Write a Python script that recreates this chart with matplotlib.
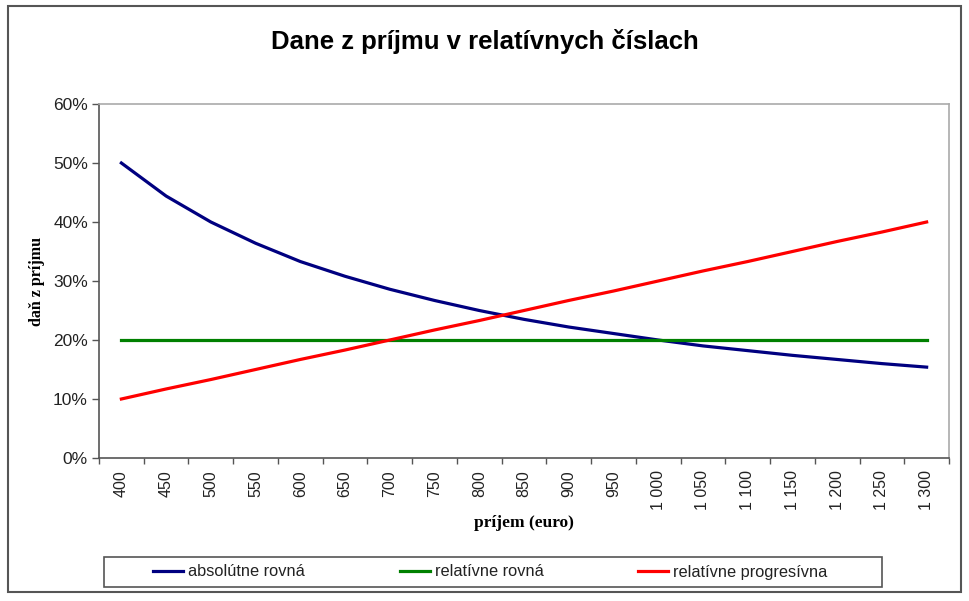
import matplotlib
matplotlib.use("Agg")
import matplotlib.pyplot as plt
from matplotlib.patches import Rectangle
from matplotlib.ticker import FixedLocator, FuncFormatter

# ---- data ----
income = ["400", "450", "500", "550", "600", "650", "700", "750", "800", "850",
          "900", "950", "1 000", "1 050", "1 100", "1 150", "1 200", "1 250", "1 300"]
absolutne_rovna = [0.500, 0.444, 0.400, 0.364, 0.333, 0.308, 0.286, 0.267, 0.250, 0.235,
                   0.222, 0.211, 0.200, 0.190, 0.182, 0.174, 0.167, 0.160, 0.154]
relativne_rovna = [0.20] * 19
relativne_progresivna = [0.100, 0.117, 0.133, 0.150, 0.167, 0.183, 0.200, 0.217, 0.233, 0.250,
                         0.267, 0.283, 0.300, 0.317, 0.333, 0.350, 0.367, 0.383, 0.400]
series_names = ["absolútne rovná", "relatívne rovná", "relatívne progresívna"]
y_ticks = [0.0, 0.1, 0.2, 0.3, 0.4, 0.5, 0.6]

W, H = 969, 601
fig = plt.figure(figsize=(W / 100, H / 100), dpi=100)
fig.patch.set_facecolor("white")

ax = fig.add_axes([99 / W, 1 - 458 / H, (949 - 99) / W, (458 - 104) / H])
x = list(range(len(income)))

l1, = ax.plot(x, absolutne_rovna, color="#000080", lw=2.3, label=series_names[0])
l2, = ax.plot(x, relativne_rovna, color="#008000", lw=2.3, label=series_names[1])
l3, = ax.plot(x, relativne_progresivna, color="#FF0000", lw=2.3, label=series_names[2])

ax.set_xlim(-0.5, len(income) - 0.5)
ax.set_ylim(0, 0.6)

ax.set_xticks(x)
ax.set_xticklabels(income, rotation=90, fontsize=11.5, color="#222222",
                   family="Liberation Sans")
ax.tick_params(axis="x", which="major", length=0, pad=9)
ax.xaxis.set_minor_locator(FixedLocator([i - 0.5 for i in range(len(income) + 1)]))
ax.tick_params(axis="x", which="minor", length=4, color="#555555", width=1)

ax.set_yticks(y_ticks)
ax.yaxis.set_major_formatter(FuncFormatter(lambda v, p: f"{v * 100:.0f}%"))
ax.tick_params(axis="y", length=5, color="#555555", width=1, labelsize=12.5,
               labelcolor="#222222", pad=3)
for lab in ax.get_yticklabels():
    lab.set_family("Liberation Sans")

for side in ["left", "bottom"]:
    ax.spines[side].set_color("#555555")
    ax.spines[side].set_linewidth(1.2)
for side in ["top", "right"]:
    ax.spines[side].set_color("#aaaaaa")
    ax.spines[side].set_linewidth(1.2)

ax.set_ylabel("daň z príjmu", fontsize=11.5, fontweight="bold",
              family="Liberation Serif")
ax.yaxis.set_label_coords(-54 / 850, 0.5)
fig.text(524 / W, 1 - 523 / H, "príjem (euro)", fontsize=12.5, fontweight="bold",
         family="Liberation Serif", ha="center", va="center")

fig.text(485 / W, 1 - 42 / H, "Dane z príjmu v relatívnych číslach", fontsize=18.5,
         fontweight="bold", family="Liberation Sans", ha="center", va="center")

# legend frame
fig.add_artist(Rectangle((104 / W, 1 - 587 / H), (882 - 104) / W, 30 / H,
                         transform=fig.transFigure, fill=False,
                         edgecolor="#555555", linewidth=1.2))
leg = fig.legend(handles=[l1, l2, l3], labels=series_names, ncol=3,
                 bbox_to_anchor=(153 / W, 1 - 572 / H), loc="center left",
                 frameon=False, handlelength=1.83, handletextpad=0.3,
                 columnspacing=5.8, borderpad=0, borderaxespad=0,
                 prop={"family": "Liberation Sans", "size": 11.8})
for t in leg.get_texts():
    t.set_color("#222222")

fig.add_artist(Rectangle((8 / W, 1 - 592 / H), 953 / W, 586 / H, transform=fig.transFigure,
                         fill=False, edgecolor="#555555", linewidth=1.5))

fig.savefig("out.png", dpi=100)
